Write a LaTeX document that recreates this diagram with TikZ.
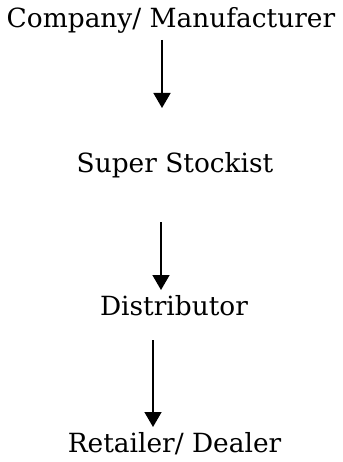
\documentclass[tikz,border=0pt]{standalone}
\usepackage{fontspec}
\setmainfont{DejaVu Serif}
\usetikzlibrary{arrows.meta}
\begin{document}
\begin{tikzpicture}[x=1pt,y=-1pt,
  label/.style={inner sep=0pt,anchor=base,font=\fontsize{26.4}{31}\selectfont},
  flow/.style={line width=1.5pt,-{Triangle[length=15pt,width=17pt]}}]
\useasboundingbox (0,0) rectangle (342,462);
% stages of the distribution chain
\node[label] (company) at (171,28) {Company/ Manufacturer};
\node[label] (stockist) at (175,173) {Super Stockist};
\node[label] (distributor) at (174,315) {Distributor};
\node[label] (retailer) at (174.5,452) {Retailer/ Dealer};
% arrow end points
\coordinate (a1s) at (162,40);  \coordinate (a1e) at (162,108);
\coordinate (a2s) at (161,222); \coordinate (a2e) at (161,290);
\coordinate (a3s) at (153,340); \coordinate (a3e) at (153,427);
\draw[flow] (a1s) -- (a1e);
\draw[flow] (a2s) -- (a2e);
\draw[flow] (a3s) -- (a3e);
\end{tikzpicture}
\end{document}
